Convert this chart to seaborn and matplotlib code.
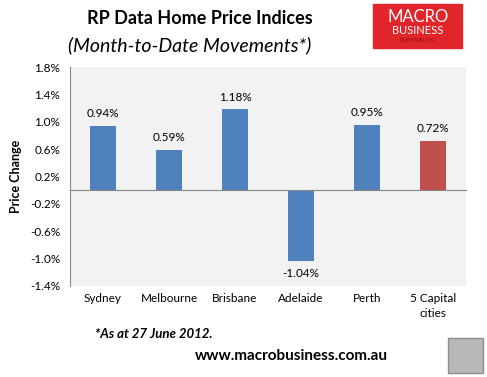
import matplotlib
matplotlib.use("Agg")
import matplotlib.pyplot as plt
import seaborn as sns
import pandas as pd
from matplotlib.patches import Rectangle

cities = ["Sydney", "Melbourne", "Brisbane", "Adelaide", "Perth", "5 Capital\ncities"]
changes = [0.94, 0.59, 1.18, -1.04, 0.95, 0.72]
groups = ["city", "city", "city", "city", "city", "total"]
yticks = [-1.4, -1.0, -0.6, -0.2, 0.2, 0.6, 1.0, 1.4, 1.8]

df = pd.DataFrame({"city": cities, "change": changes, "group": groups})

sns.set_style("white")
plt.rcParams["font.family"] = ["Lato", "DejaVu Sans"]
plt.rcParams["text.color"] = "black"
plt.rcParams["xtick.color"] = "black"
plt.rcParams["ytick.color"] = "black"
plt.rcParams["axes.labelcolor"] = "black"

fig = plt.figure(figsize=(4.87, 3.77), dpi=100)
ax = fig.add_axes([70/487, 1-286/377, 396/487, 219/377])
ax.set_facecolor("#F2F2F2")

sns.barplot(data=df, x="city", y="change", hue="group",
            palette={"city": "#4F81BD", "total": "#C0504D"},
            dodge=False, width=0.4, legend=False, ax=ax, saturation=1,
            linewidth=0)

ax.set_ylim(-1.4, 1.8)
ax.set_xlim(-0.5, len(cities) - 0.5)
ax.set_yticks(yticks)
ax.set_yticklabels([f"{v:.1f}%" for v in yticks], fontsize=8.5)
ax.set_ylabel("Price Change", fontsize=9, fontweight="bold", labelpad=6)
ax.set_xlabel("")

for s in ["top", "right"]:
    ax.spines[s].set_visible(False)
ax.spines["left"].set_color("#868686")
ax.spines["bottom"].set_color("#868686")
ax.spines["bottom"].set_position(("data", 0))

ax.tick_params(axis="y", length=4, color="#868686", direction="out", pad=3)
ax.set_xticks(range(len(cities)))
ax.set_xticklabels(cities, fontsize=8.5, linespacing=1.5)
ax.tick_params(axis="x", which="major", length=0, pad=74)
ax.set_xticks([i - 0.5 for i in range(len(cities) + 1)], minor=True)
ax.tick_params(axis="x", which="minor", length=4, color="#868686", direction="out")

for i, v in enumerate(changes):
    if v >= 0:
        ax.text(i, v + 0.1, f"{v:.2f}%", ha="center", va="bottom", fontsize=8.5)
    else:
        ax.text(i, v - 0.1, f"{v:.2f}%", ha="center", va="top", fontsize=8.5)

fig.text(200/487, 1-18/377, "RP Data Home Price Indices", ha="center", va="center",
         fontsize=13, fontweight="bold")
fig.text(190/487, 1-45/377, "(Month-to-Date Movements*)", ha="center", va="center",
         fontsize=14, style="italic")
fig.text(95/487, 1-334/377, "*As at 27 June 2012.", ha="left", va="center",
         fontsize=9.5, fontweight="bold", style="italic")
fig.text(195/487, 1-356/377, "www.macrobusiness.com.au", ha="left", va="center",
         fontsize=11, fontweight="bold")

# logo
fig.patches.append(Rectangle((373/487, 1-48/377), 89/487, 44/377,
                             transform=fig.transFigure, color="#E0262A", zorder=0))
fig.text(418/487, 1-17/377, "MACRO", ha="center", va="center", color="white", fontsize=12)
fig.text(418/487, 1-31/377, "BUSINESS", ha="center", va="center", color="white", fontsize=8)
fig.text(418/487, 1-41/377, "SUPERBLOG", ha="center", va="center", color="#9A0A10", fontsize=4.5)
fig.patches.append(Rectangle((448/487, 1-373/377), 35/487, 35/377,
                             transform=fig.transFigure, facecolor="#B8B8B8",
                             edgecolor="#8C8C8C", lw=1, zorder=0))

fig.savefig("out.png", dpi=100)
